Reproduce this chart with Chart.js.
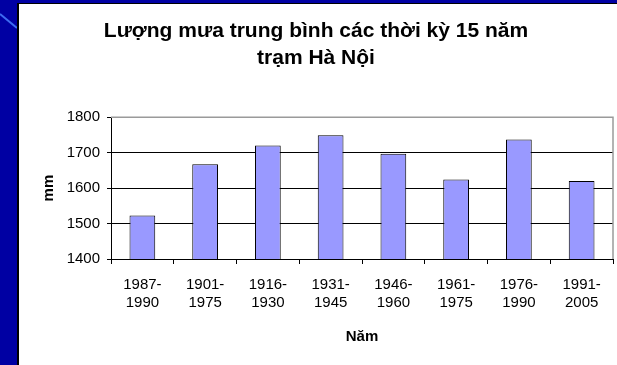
<!DOCTYPE html>
<html>
<head>
<meta charset="utf-8">
<script src="https://cdn.jsdelivr.net/npm/chart.js@4"></script>
<style>
  html, body { margin: 0; padding: 0; width: 617px; height: 365px; overflow: hidden; background: #0000a3; }
  #deco { position: absolute; left: 0; top: 0; }
  #panel { position: absolute; left: 17px; top: 3px; width: 620px; height: 380px; background: #fff; border-left: 2px solid #000; border-top: 1px solid #000; }
  #wrap { position: absolute; left: 19px; top: 4px; width: 608px; height: 361px; }
</style>
</head>
<body>
<svg id="deco" width="20" height="40"><line x1="0" y1="14" x2="17" y2="28" stroke="#3d6cf2" stroke-width="2"/></svg>
<div id="panel"></div>
<div id="wrap"><canvas id="graph"></canvas></div>
<script>
// rainfall per 15-year period, Hanoi station
const periods = [
  ['1987-', '1990'], ['1901-', '1975'], ['1916-', '1930'], ['1931-', '1945'],
  ['1946-', '1960'], ['1961-', '1975'], ['1976-', '1990'], ['1991-', '2005']
];
const rainfall = [1523, 1667, 1720, 1749, 1697, 1624, 1737, 1620];
const yTicks = [1400, 1500, 1600, 1700, 1800];

const titleLines = ['Lượng mưa trung bình các thời kỳ 15 năm', 'trạm Hà Nội'];
const font = 'Arial, "Liberation Sans", sans-serif';

// gray frame on the top and right of the plot
const plotFrame = {
  id: 'plotFrame',
  beforeDatasetsDraw(chart) {
    const { ctx, chartArea: a } = chart;
    ctx.save();
    ctx.strokeStyle = '#9a9a9a';
    ctx.lineWidth = 1.5;
    ctx.beginPath();
    ctx.moveTo(a.left, a.top);
    ctx.lineTo(a.right, a.top);
    ctx.lineTo(a.right, a.bottom);
    ctx.stroke();
    ctx.restore();
  }
};

window.onload = function () {
  loadChart(document.querySelector('#graph'));
};

function loadChart(element) {
  new Chart(element, {
    type: 'bar',
    data: {
      labels: periods,
      datasets: [{
        data: rainfall,
        backgroundColor: '#9999ff',
        borderColor: '#000',
        borderWidth: 1,
        barPercentage: 0.41,
        categoryPercentage: 1
      }]
    },
    plugins: [plotFrame],
    options: {
      responsive: true,
      maintainAspectRatio: false,
      animation: false,
      layout: { padding: { top: 0, right: 14, bottom: 0, left: 0 } },
      plugins: {
        legend: { display: false },
        tooltip: { enabled: false },
        title: {
          display: true,
          text: titleLines,
          color: '#000',
          font: { family: font, size: 21, weight: 'bold', lineHeight: '26.6px' },
          padding: { top: 14, bottom: 46 }
        }
      },
      scales: {
        x: {
          afterFit: (s) => { s.height = 106; },
          grid: { display: true, drawOnChartArea: false, offset: true, color: '#000', tickLength: 5, tickColor: '#000' },
          border: { color: '#000', width: 1 },
          ticks: { color: '#000', font: { family: font, size: 15, lineHeight: 1.25 }, padding: 11, maxRotation: 0, autoSkip: false },
          title: { display: true, text: 'Năm', color: '#000', font: { family: font, size: 15, weight: 'bold' }, padding: { top: 0, bottom: 19 } }
        },
        y: {
          min: 1400,
          max: 1800,
          afterFit: (s) => { s.width = 92; },
          afterBuildTicks: (s) => { s.ticks = yTicks.map(v => ({ value: v })); },
          grid: {
            color: (c) => c.tick && c.tick.value === 1800 ? '#9a9a9a' : '#000',
            tickColor: '#000',
            tickLength: 4
          },
          border: { color: '#000', width: 1 },
          ticks: { color: '#000', font: { family: font, size: 15 }, padding: 7, callback: (v) => String(v) },
          title: { display: true, text: 'mm', color: '#000', font: { family: font, size: 15, weight: 'bold' }, padding: { top: 21, bottom: 0 } }
        }
      }
    }
  });
}
</script>
</body>
</html>
